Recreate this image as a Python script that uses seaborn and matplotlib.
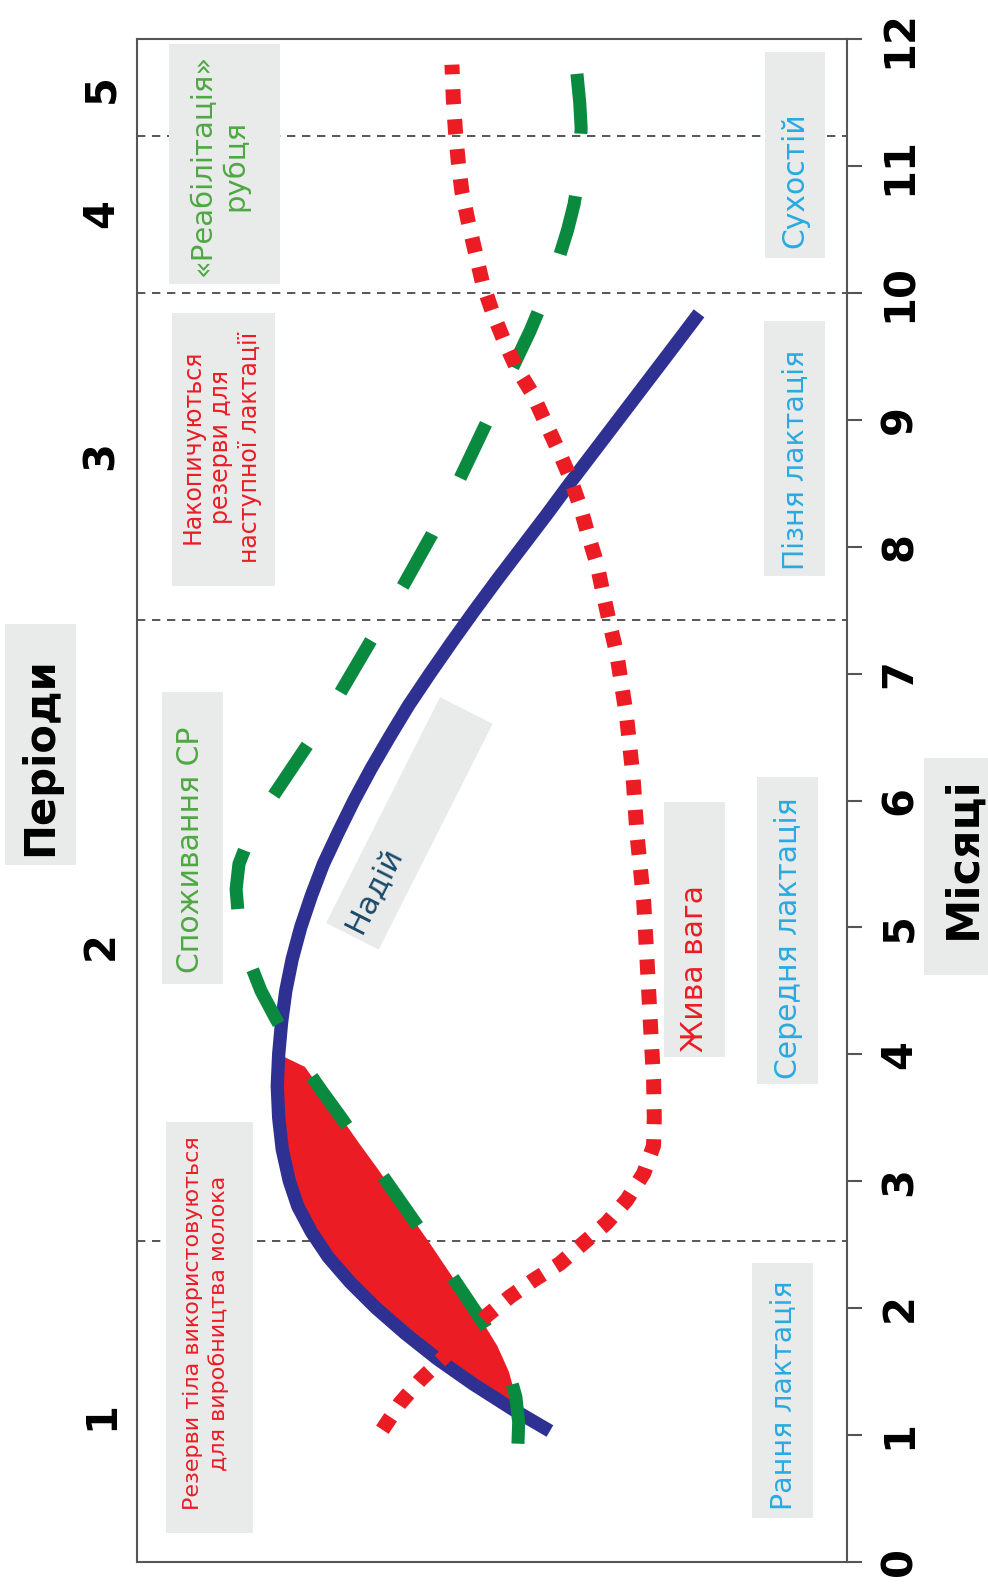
import numpy as np
import pandas as pd
import matplotlib
matplotlib.use('agg')
import matplotlib.pyplot as plt
import matplotlib.transforms as mtransforms
from matplotlib.patches import Rectangle
import seaborn as sns

# chart is drawn turned on its side: months run bottom->top, value grows to the left
milk_month = [1.03, 1.2, 1.4, 1.6, 1.8, 2.0, 2.2, 2.4, 2.6, 2.8, 3.0, 3.25, 3.5, 3.75, 4.0,
              4.25, 4.5, 4.75, 5.0, 5.25, 5.5, 5.75, 6.0, 6.25, 6.5, 6.75, 7.0, 7.25, 7.5,
              7.75, 8.0, 8.25, 8.5, 8.75, 9.0, 9.25, 9.5, 9.84]
milk_value = [41.8, 47.0, 52.6, 57.7, 62.2, 66.3, 69.9, 73.0, 75.4, 77.3, 78.5, 79.5, 80.0, 80.2, 80.0,
              79.6, 79.0, 78.1, 76.9, 75.4, 73.7, 71.6, 69.4, 67.0, 64.4, 61.7, 58.7, 55.6, 52.4,
              49.1, 45.7, 42.3, 39.0, 35.6, 32.2, 28.8, 25.4, 20.8]

intake_month = [0.93, 1.1, 1.3, 1.5, 1.7, 1.9, 2.1, 2.3, 2.5, 2.7, 2.9, 3.1, 3.3, 3.5, 3.7, 3.9,
                4.1, 4.3, 4.5, 4.7, 4.9, 5.1, 5.3, 5.5, 5.7, 5.9, 6.1, 6.3, 6.5, 6.7, 6.9, 7.1,
                7.3, 7.5, 7.7, 7.9, 8.1, 8.3, 8.5, 8.7, 8.9, 9.1, 9.3, 9.5, 9.7, 9.9, 10.1,
                10.3, 10.5, 10.7, 10.9, 11.1, 11.3, 11.5, 11.73]
intake_value = [46.3, 46.2, 46.6, 47.6, 49.2, 51.4, 53.8, 56.2, 58.6, 61.1, 63.6, 66.1, 68.7, 71.2,
                73.8, 76.3, 78.6, 80.6, 82.5, 83.9, 85.0, 85.7, 86.0, 85.6, 84.2, 82.4, 80.0,
                77.6, 75.2, 72.9, 70.8, 68.7, 66.6, 64.5, 62.4, 60.4, 58.4, 56.6, 54.8, 53.1,
                51.4, 49.7, 48.0, 46.3, 44.6, 43.1, 41.6, 40.4, 39.3, 38.4, 37.8, 37.6, 37.4,
                37.6, 38.0]

weight_month = [1.04, 1.25, 1.43, 1.94, 2.09, 2.22, 2.35, 2.51, 2.67, 2.85, 3.06, 3.28, 3.5, 3.8,
                4.19, 4.72, 5.21, 5.71, 6.19, 6.66, 7.16, 7.4, 7.63, 7.87, 8.09, 8.31, 8.55,
                8.76, 9.0, 9.21, 9.41, 9.63, 9.85, 10.08, 10.32, 10.56, 10.8, 11.03, 11.27,
                11.52, 11.8]
weight_value = [65.4, 62.9, 60.1, 50.7, 47.4, 44.1, 40.4, 37.1, 33.8, 31.0, 28.6, 27.2, 27.1, 27.2,
                27.6, 28.1, 28.6, 29.5, 30.1, 31.0, 32.4, 33.4, 34.3, 35.2, 36.4, 37.5, 39.0,
                40.6, 42.6, 44.3, 46.5, 48.3, 49.9, 51.3, 52.3, 53.3, 54.2, 54.7, 55.1,
                55.4, 55.6]

month_ticks = list(range(13))
period_bounds = [2.53, 7.42, 10.0, 11.24]
period_labels = ['1', '2', '3', '4', '5']
period_pos = [1.15, 4.86, 8.72, 10.63, 11.61]

BLUE = '#2e3192'
GREEN = '#0a8a3f'
RED = '#ec1c24'
GREEN_T = '#4ea842'
CYAN = '#29aae1'
BOXC = '#e9eaea'
FRAME = '#555555'

W, H = 988, 1584

sns.set_theme(style='white')
plt.rcParams['font.family'] = ['DejaVu Sans']

fig = plt.figure(figsize=(W / 100, H / 100), dpi=100)
ax = fig.add_axes([136.7 / W, (H - 1561.7) / H, 710 / W, 1522.4 / H])
# image-pixel transform (y downwards) for the annotation boxes
px = mtransforms.Affine2D().scale(1 / W, -1 / H).translate(0, 1) + fig.transFigure

milk_df = pd.DataFrame({'month': milk_month, 'value': milk_value})
intake_df = pd.DataFrame({'month': intake_month, 'value': intake_value})
weight_df = pd.DataFrame({'month': weight_month, 'value': weight_value})

# period separators
for b in period_bounds:
    ax.axhline(b, color='#3a3a3a', lw=1.2, ls=(0, (5, 4)), zorder=1)

# reserves used for milk: area between milk and intake curves
m1 = milk_df[(milk_df.month >= 1.2) & (milk_df.month <= 4.0)]
i1 = intake_df[(intake_df.month >= 1.3) & (intake_df.month <= 3.9)].iloc[::-1]
ax.fill(np.r_[m1.value, i1.value], np.r_[m1.month, i1.month], color=RED, lw=0, zorder=2)

sns.lineplot(data=milk_df, x='value', y='month', orient='y', estimator=None,
             color=BLUE, lw=9.6, ax=ax, zorder=3)
ln = ax.lines[-1]
ln.set_solid_capstyle('butt')
ln.set_solid_joinstyle('round')

sns.lineplot(data=intake_df, x='value', y='month', orient='y', estimator=None,
             color=GREEN, lw=9.4, ax=ax, zorder=4)
ln = ax.lines[-1]
ln.set_linestyle((0, (4.6, 4.8)))
ln.set_dash_capstyle('butt')

sns.lineplot(data=weight_df, x='value', y='month', orient='y', estimator=None,
             color=RED, lw=10.8, ax=ax, zorder=5)
ln = ax.lines[-1]
ln.set_linestyle((0, (1, 1)))
ln.set_dash_capstyle('butt')

ax.set_xlim(100, 0)
ax.set_ylim(0, 12)
ax.set_xticks([])
ax.yaxis.tick_right()
ax.set_yticks(month_ticks)
ax.tick_params(axis='y', direction='out', length=11, width=1.5, colors=FRAME,
               labelcolor='black', labelsize=30, pad=12, labelrotation=90)
for lbl in ax.get_yticklabels():
    lbl.set_fontweight('bold')
    lbl.set_va('center')
ax.set_xlabel('')
ax.set_ylabel('')
for sp in ax.spines.values():
    sp.set_visible(True)
    sp.set_color(FRAME)
    sp.set_linewidth(1.5)

for lab, pos in zip(period_labels, period_pos):
    ax.text(-0.0503, pos, lab, transform=ax.get_yaxis_transform(), rotation=90,
            ha='center', va='center', fontsize=30, fontweight='bold', color='black')


def note(x0, y0, x1, y1, cx, cy, s, color, size, weight='normal', ls=1.2):
    ax.add_patch(Rectangle((x0, y0), x1 - x0, y1 - y0, transform=px, color=BOXC,
                           lw=0, zorder=1.5, clip_on=False))
    ax.text(cx, cy, s, transform=px, rotation=90, ha='center', va='center',
            multialignment='center', color=color, fontsize=size, fontweight=weight,
            linespacing=ls, zorder=6)


note(166, 1122, 253, 1533, 206, 1323, 'Резерви тіла використовуються\nдля виробництва молока', RED, 16, ls=1.3)
note(162, 692, 223, 984, 190, 850, 'Споживання СР', GREEN_T, 21.5)
note(664, 802, 725, 1057, 694, 969, 'Жива вага', RED, 21.5)
note(757, 777, 818, 1084, 788, 938, 'Середня лактація', CYAN, 21.5)
note(752, 1263, 813, 1518, 783, 1395, 'Рання лактація', CYAN, 20.5)
note(764, 321, 825, 576, 795, 460, 'Пізня лактація', CYAN, 20.5)
note(765, 52, 825, 258, 795, 180, 'Сухостій', CYAN, 21.5)
note(169, 44, 280, 284, 219, 165, '«Реабілітація»\nрубця', GREEN_T, 21)
note(172, 313, 275, 586, 221, 447, 'Накопичуються\nрезерви для\nнаступної лактації', RED, 17, ls=1.25)
note(5, 624, 76, 865, 40, 757, 'Періоди', 'black', 30, weight='bold')
note(924, 758, 988, 975, 963, 858, 'Місяці', 'black', 32, weight='bold')

# tilted label for the milk curve
ax.add_patch(Rectangle((326, 923), 253, 59, angle=-63.2, transform=px, color=BOXC,
                       lw=0, zorder=1.5, clip_on=False))
ax.text(374, 890, 'Надій', transform=px, rotation=63.2, ha='center', va='center',
        rotation_mode='anchor', color='#1c4a6b', fontsize=22, zorder=6)

fig.savefig('out.png', dpi=100)
